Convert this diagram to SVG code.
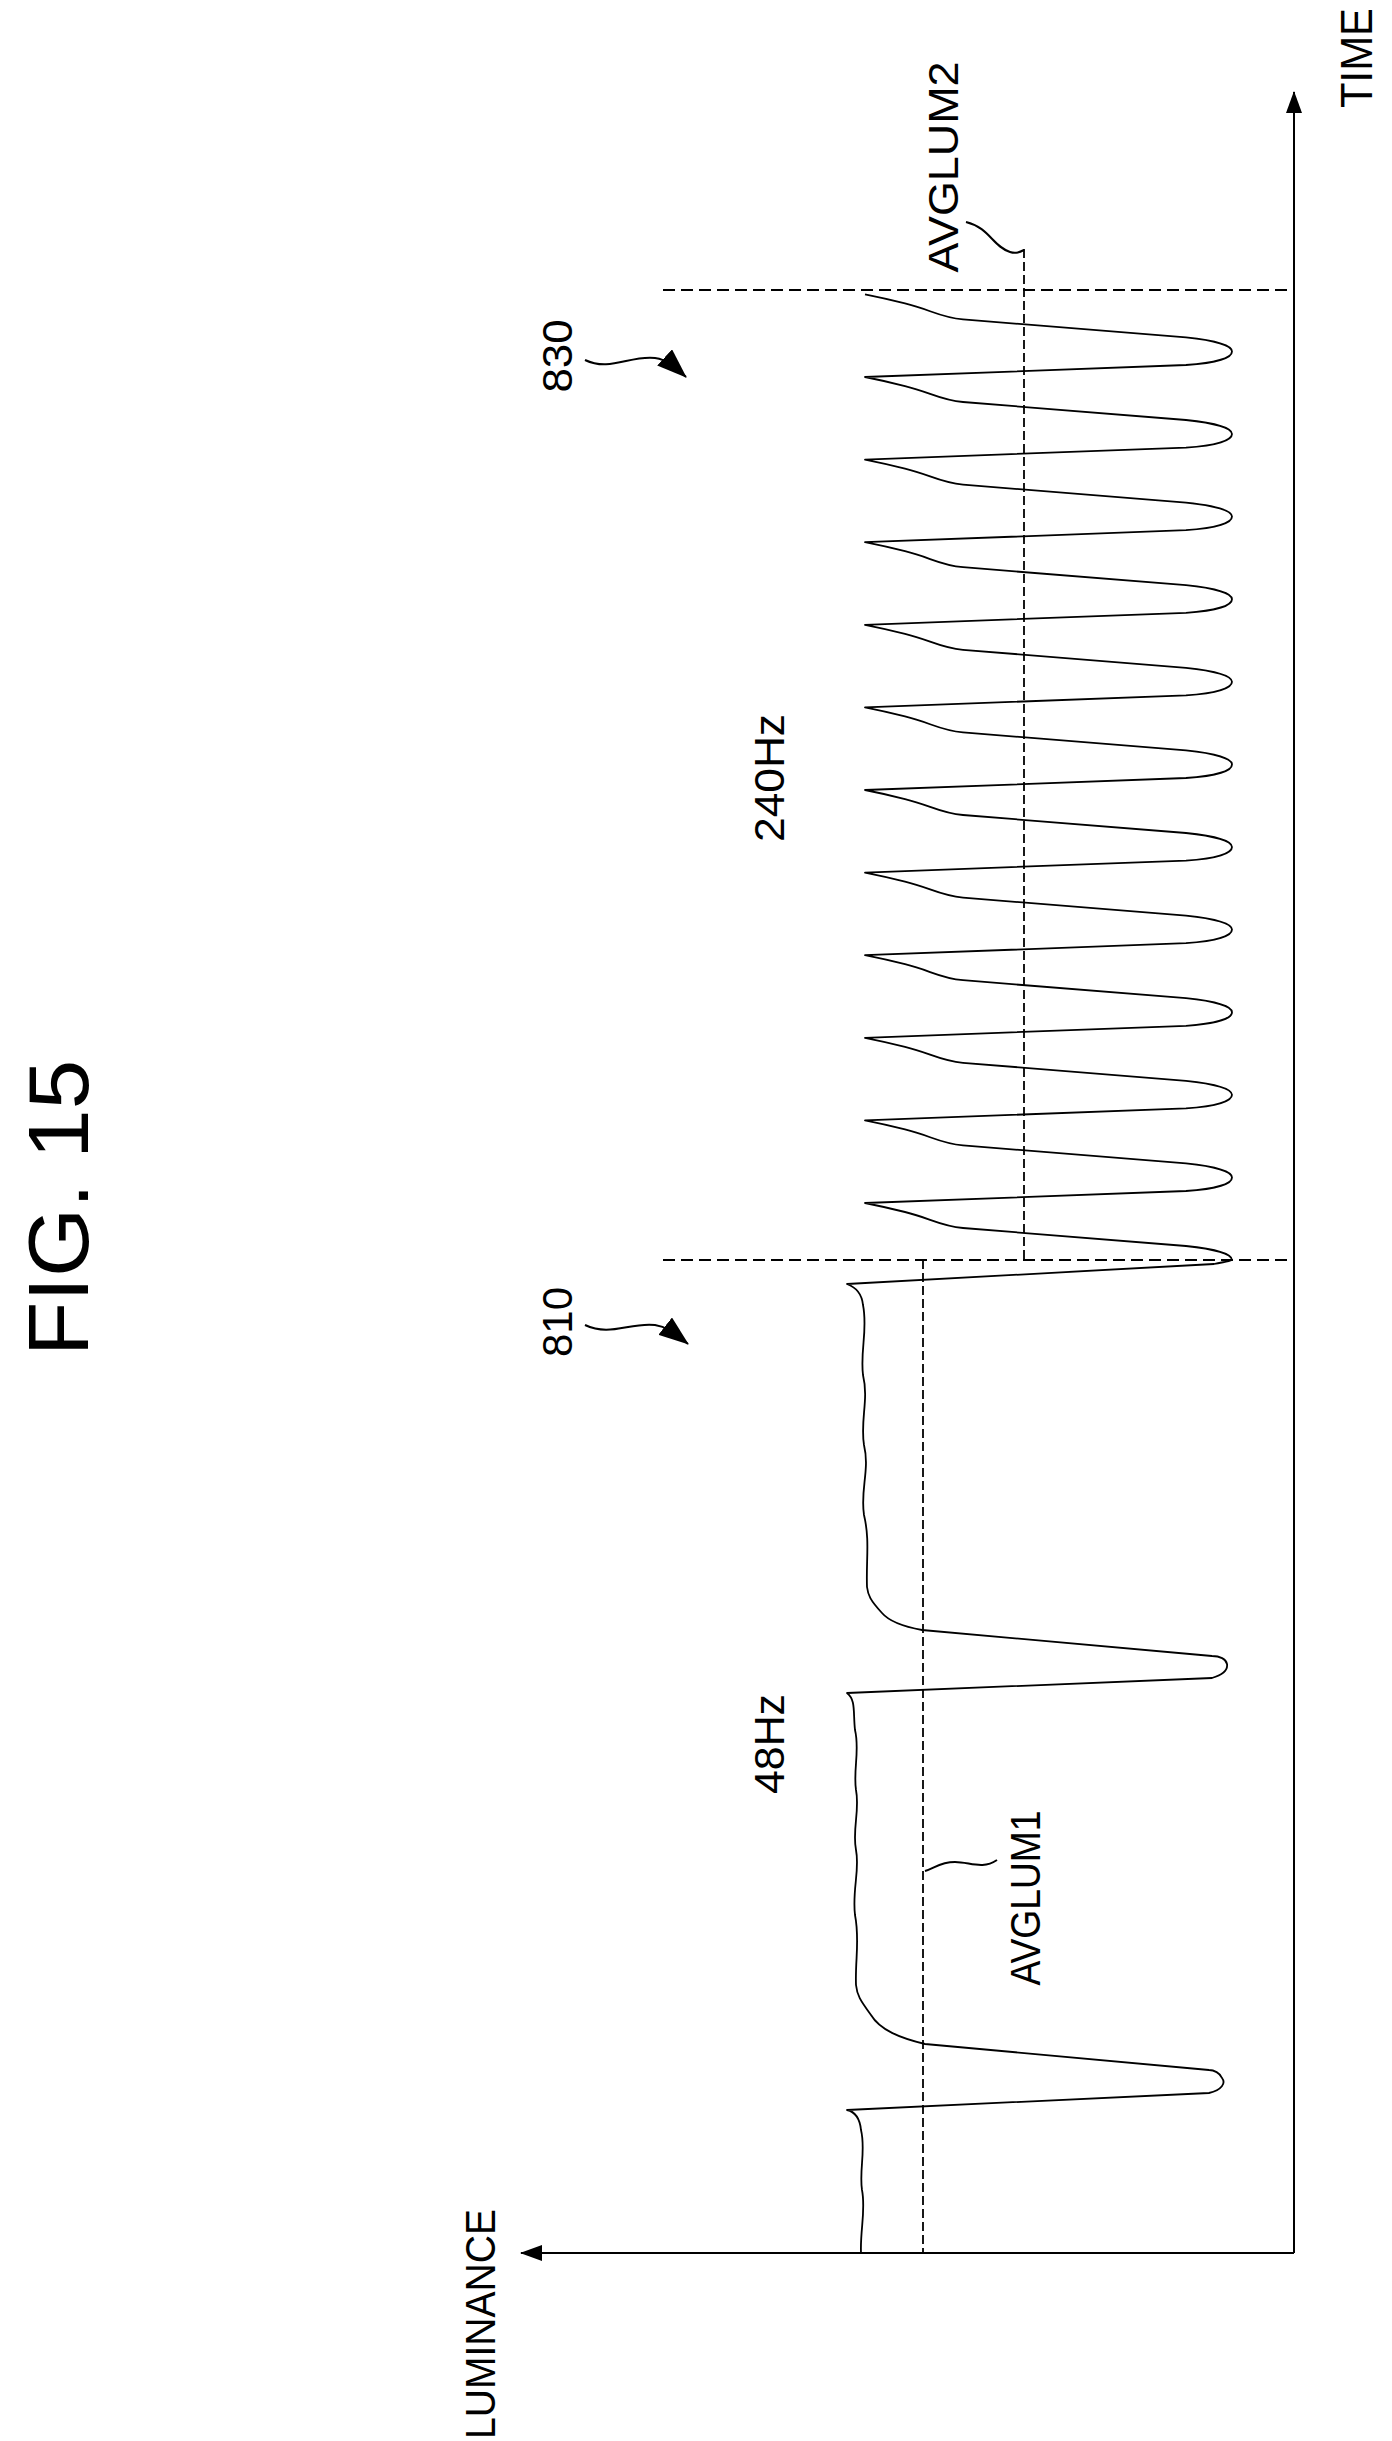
<svg xmlns="http://www.w3.org/2000/svg" width="1392" height="2441" viewBox="0 0 1392 2441">
<style>
text{font-family:"Liberation Sans",Arial,sans-serif;fill:#000}
.ln{fill:none;stroke:#000;stroke-width:2}
.wv{fill:none;stroke:#000;stroke-width:1.8;stroke-linejoin:round}
.dh{fill:none;stroke:#000;stroke-width:2;stroke-dasharray:12 6}
.dv{fill:none;stroke:#000;stroke-width:1.8;stroke-dasharray:9 4}
</style>
<defs>
<marker id="ah2" markerWidth="22" markerHeight="16" refX="21" refY="8" orient="auto" markerUnits="userSpaceOnUse" viewBox="0 0 22 16"><path d="M0,0 L22,8 L0,16 Z" fill="#000"/></marker>
<marker id="ah3" markerWidth="30" markerHeight="22" refX="29" refY="11" orient="auto" markerUnits="userSpaceOnUse" viewBox="0 0 30 22"><path d="M0,0 L30,11 L0,22 Z" fill="#000"/></marker>
</defs>
<rect width="1392" height="2441" fill="#fff"/>
<g id="title"><text transform="translate(88,1208) rotate(-90)" font-size="86" text-anchor="middle" textLength="296" lengthAdjust="spacingAndGlyphs">FIG. 15</text></g>
<g id="connectors">
<path class="ln" d="M1294 2253 L1294 92" marker-end="url(#ah2)"/>
<path class="ln" d="M1294 2253 L521 2253" marker-end="url(#ah2)"/>
<path class="dh" d="M663 290 L1294 290"/>
<path class="dh" d="M663 1260 L1294 1260"/>
<path class="dv" d="M1024 249 L1024 1260"/>
<path class="dv" d="M923 1260 L923 2253"/>
<path class="ln" stroke-width="1.5" d="M966 222 C990 228 992 246 1010 252 C1016 254 1020 252 1024 250"/>
<path class="ln" stroke-width="1.5" d="M925 1871 C935 1868 940 1862 955 1862 C970 1862 982 1870 997 1860"/>
<path class="ln" d="M585 360 C610 372 630 355 655 358 C668 360 674 366 686 377" marker-end="url(#ah3)"/>
<path class="ln" d="M585 1325 C610 1337 630 1322 655 1325 C668 1327 674 1333 688 1344" marker-end="url(#ah3)"/>
</g>
<g id="waveform">
<path class="wv" d="M861 2253 C860 2230 866 2210 862 2190 C859 2170 866 2150 861 2130 C860 2120 856 2112 847 2110 L1209 2093 C1222 2090 1226 2083 1222 2078 C1220 2073 1214 2070 1209 2070 L925 2044 C900 2038 880 2030 871 2015 C860 2000 857 1995 856 1985 C855 1960 860 1940 855 1915 C852 1890 860 1870 856 1850 C852 1830 860 1810 856 1790 C853 1770 860 1750 855 1730 C853 1712 856 1700 847 1693 L1212 1678 C1222 1675 1228 1670 1227 1664 C1226 1659 1220 1656 1212 1656 L922 1630 C900 1626 888 1620 882 1613 C870 1600 868 1595 867 1587 C866 1560 870 1540 864 1515 C860 1490 870 1470 864 1445 C860 1420 869 1400 863 1375 C860 1350 868 1330 863 1305 C862 1295 858 1288 847 1284 L1214 1264 C1222 1262 1228 1262 1232 1260"/>
<path class="wv" d="M1232 1260
c 0 -6 -17 -11 -46 -14 l -223 -18 c -23 -2 -33 -10 -58 -16 c -20 -5 -35 -8 -40 -9 l 321 -12 c 29 -2 46 -7 46 -13.6
c 0 -6 -17 -11 -46 -14 l -223 -18 c -23 -2 -33 -10 -58 -16 c -20 -5 -35 -8 -40 -9 l 321 -12 c 29 -2 46 -7 46 -13.6
c 0 -6 -17 -11 -46 -14 l -223 -18 c -23 -2 -33 -10 -58 -16 c -20 -5 -35 -8 -40 -9 l 321 -12 c 29 -2 46 -7 46 -13.6
c 0 -6 -17 -11 -46 -14 l -223 -18 c -23 -2 -33 -10 -58 -16 c -20 -5 -35 -8 -40 -9 l 321 -12 c 29 -2 46 -7 46 -13.6
c 0 -6 -17 -11 -46 -14 l -223 -18 c -23 -2 -33 -10 -58 -16 c -20 -5 -35 -8 -40 -9 l 321 -12 c 29 -2 46 -7 46 -13.6
c 0 -6 -17 -11 -46 -14 l -223 -18 c -23 -2 -33 -10 -58 -16 c -20 -5 -35 -8 -40 -9 l 321 -12 c 29 -2 46 -7 46 -13.6
c 0 -6 -17 -11 -46 -14 l -223 -18 c -23 -2 -33 -10 -58 -16 c -20 -5 -35 -8 -40 -9 l 321 -12 c 29 -2 46 -7 46 -13.6
c 0 -6 -17 -11 -46 -14 l -223 -18 c -23 -2 -33 -10 -58 -16 c -20 -5 -35 -8 -40 -9 l 321 -12 c 29 -2 46 -7 46 -13.6
c 0 -6 -17 -11 -46 -14 l -223 -18 c -23 -2 -33 -10 -58 -16 c -20 -5 -35 -8 -40 -9 l 321 -12 c 29 -2 46 -7 46 -13.6
c 0 -6 -17 -11 -46 -14 l -223 -18 c -23 -2 -33 -10 -58 -16 c -20 -5 -35 -8 -40 -9 l 321 -12 c 29 -2 46 -7 46 -13.6
c 0 -6 -17 -11 -46 -14 l -223 -18 c -23 -2 -33 -10 -58 -16 c -20 -5 -35 -8 -40 -9 l 321 -12 c 29 -2 46 -7 46 -13.6
c 0 -6 -17 -11 -46 -14 l -223 -18 c -23 -2 -33 -10 -58 -16 c -20 -5 -35 -8 -40 -9"/>
</g>
<g id="labels">
<text transform="translate(1372,58) rotate(-90)" font-size="44" text-anchor="middle" textLength="100" lengthAdjust="spacingAndGlyphs">TIME</text>
<text transform="translate(958,167) rotate(-90)" font-size="42" text-anchor="middle" textLength="211" lengthAdjust="spacingAndGlyphs">AVGLUM2</text>
<text transform="translate(572,356) rotate(-90)" font-size="42" text-anchor="middle" textLength="73" lengthAdjust="spacingAndGlyphs">830</text>
<text transform="translate(784,778) rotate(-90)" font-size="42" text-anchor="middle" textLength="128" lengthAdjust="spacingAndGlyphs">240Hz</text>
<text transform="translate(572,1322) rotate(-90)" font-size="42" text-anchor="middle" textLength="70" lengthAdjust="spacingAndGlyphs">810</text>
<text transform="translate(784,1744) rotate(-90)" font-size="42" text-anchor="middle" textLength="100" lengthAdjust="spacingAndGlyphs">48Hz</text>
<text transform="translate(1040,1898) rotate(-90)" font-size="42" text-anchor="middle" textLength="175" lengthAdjust="spacingAndGlyphs">AVGLUM1</text>
<text transform="translate(495,2324) rotate(-90)" font-size="42" text-anchor="middle" textLength="230" lengthAdjust="spacingAndGlyphs">LUMINANCE</text>
</g>
</svg>
